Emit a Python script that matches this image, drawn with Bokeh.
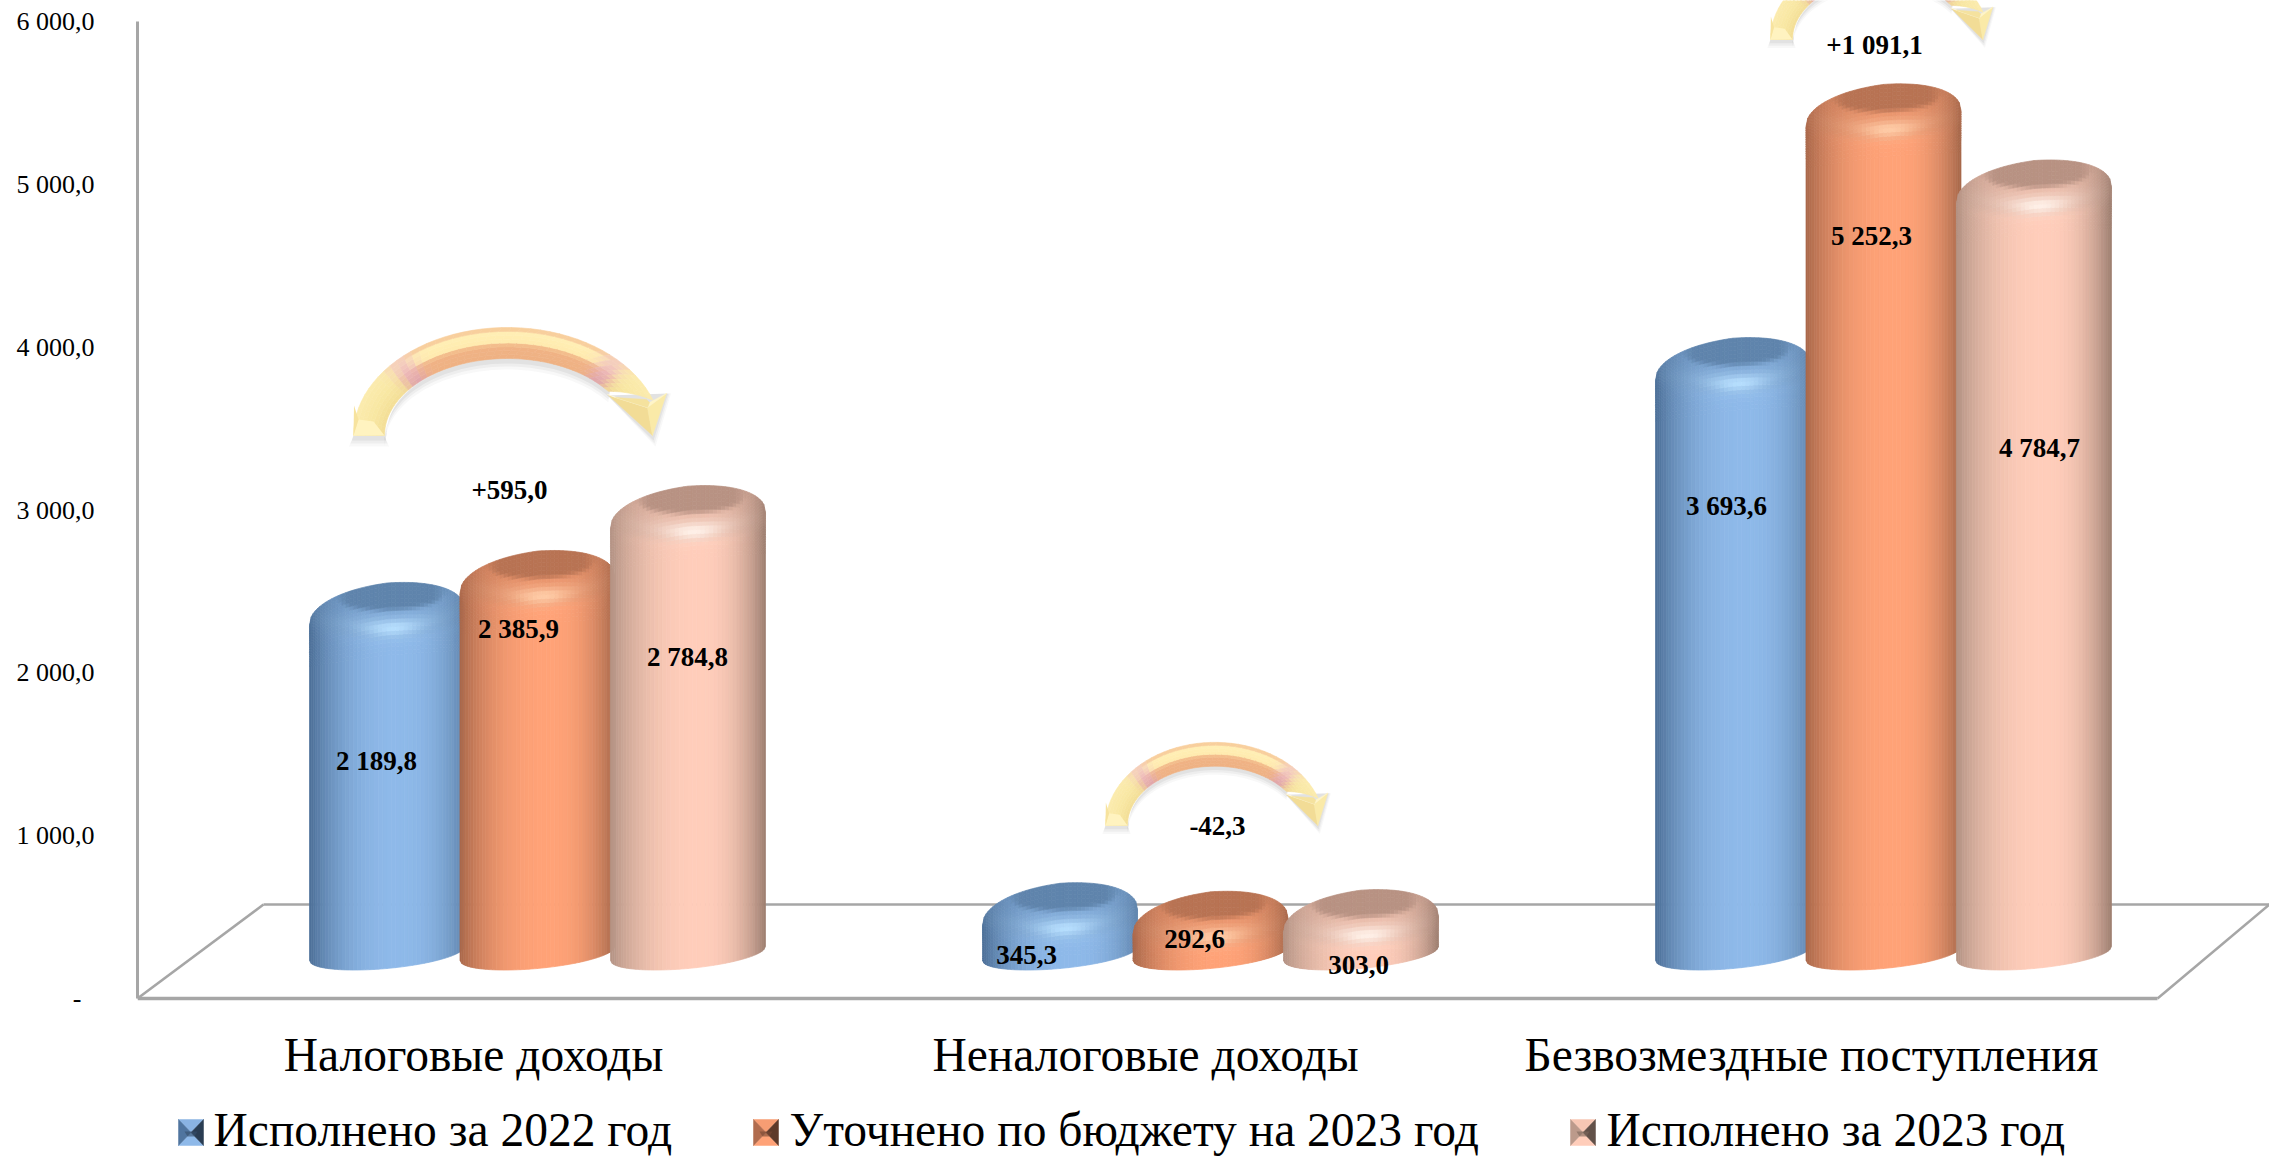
import numpy as np
from bokeh.core.properties import value
from bokeh.embed import file_html
from bokeh.models import FixedTicker, Range1d
from bokeh.plotting import figure
from bokeh.resources import INLINE

# ---------- data ----------
categories = ["Налоговые доходы", "Неналоговые доходы", "Безвозмездные поступления"]
series_names = ["Исполнено за 2022 год", "Уточнено по бюджету на 2023 год", "Исполнено за 2023 год"]
executed_2022 = [2189.8, 345.3, 3693.6]
refined_2023 = [2385.9, 292.6, 5252.3]
executed_2023 = [2784.8, 303.0, 4784.7]
deltas = ["+595,0", "-42,3", "+1 091,1"]
value_labels = [["2 189,8", "345,3", "3 693,6"],
                ["2 385,9", "292,6", "5 252,3"],
                ["2 784,8", "303,0", "4 784,7"]]
y_ticks = [0, 1000, 2000, 3000, 4000, 5000, 6000]
y_tick_labels = ["-\u00a0\u00a0", "1 000,0", "2 000,0", "3 000,0", "4 000,0", "5 000,0", "6 000,0"]

# ---------- scale of the page ----------
W, H = 2269, 1157
ORIGIN_X, PITCH = 537.0, 673.0      # px of group 0, px per group
ZERO_Y, PPU = 998.0, 0.1628         # px of value 0, px per unit
FRAME_LEFT = 137


def dy(px):
    return np.asarray(px, dtype=float) / PPU


def xp(px):
    return (np.asarray(px, dtype=float) - ORIGIN_X) / PITCH


def yp(px):
    return (ZERO_Y - np.asarray(px, dtype=float)) / PPU


p = figure(width=W, height=H, output_backend="svg", toolbar_location=None,
           x_range=Range1d(float(xp(FRAME_LEFT)), float(xp(W))),
           y_range=Range1d(float(yp(H)), float(yp(0))),
           min_border_left=FRAME_LEFT, min_border_right=0, min_border_top=0, min_border_bottom=0,
           x_axis_location=None, y_axis_location="left", background_fill_color="white",
           border_fill_color="white")
p.outline_line_color = None
p.grid.visible = False

ax = p.yaxis[0]
ax.ticker = FixedTicker(ticks=y_ticks)
ax.major_label_overrides = dict(zip(y_ticks, y_tick_labels))
ax.bounds = (0, 6000)
ax.axis_line_color = "#A6A6A6"
ax.axis_line_width = 3
ax.major_tick_line_color = None
ax.minor_tick_line_color = None
ax.major_tick_in = 0
ax.major_tick_out = 0
ax.major_label_standoff = 43
ax.major_label_text_font = "Liberation Serif"
ax.major_label_text_font_size = "26px"
ax.major_label_text_color = "black"

# floor
FLOOR = "#A6A6A6"
p.line(xp([137, 2157]), yp([998, 998]), line_color=FLOOR, line_width=3.5)
p.line(xp([137, 263]), yp([998, 904]), line_color=FLOOR, line_width=2.5)
p.line(xp([263, 2269]), yp([904, 904]), line_color=FLOOR, line_width=2.5)
p.line(xp([2157, 2269]), yp([998, 904]), line_color=FLOOR, line_width=2.5)


# ---------- shaded cylinders ----------
def rgb(h):
    return np.array([int(h[i:i + 2], 16) for i in (1, 3, 5)], dtype=float)


def tohex(c):
    c = np.clip(np.round(c), 0, 255).astype(int)
    return "#%02x%02x%02x" % tuple(c)


def sstep(a, b, x):
    t = np.clip((x - a) / (b - a), 0, 1)
    return t * t * (3 - 2 * t)


PALETTE = [
    dict(el="#4C6F97", c="#8EB9E9", er="#6085AD", cap="#5F84AC", hi="#B8E0FF"),
    dict(el="#A9674A", c="#FFA277", er="#A5674A", cap="#B87353", hi="#FFCDA8"),
    dict(el="#B39384", c="#FFCDBA", er="#9D7E70", cap="#B89283", hi="#FFF2EA"),
]
BAR_W, BAR_STEP = 155.0, 150.5
A = BAR_W / 2
B_TOP, P_TOP = 31.0, 2.2
B_BOT, K_BOT = 15.0, 7.0
BASE_Y = 953.0
PEAK_0 = 939.0
NCOL, NROW = 46, 18
us = 0.5 * (np.linspace(-1, 1, NCOL + 1) + -np.cos(np.pi * np.arange(NCOL + 1) / NCOL))


def tilt(u):
    return 11.0 * u if u < 0 else 5.0 * u


def base_color(pal, u):
    side = pal["el"] if u < 0.15 else pal["er"]
    span = 1.15 if u < 0.15 else 0.85
    s = 1 - abs((u - 0.15) / span) ** 2.4
    return rgb(side) + (rgb(pal["c"]) - rgb(side)) * s


def top_y(u, peak):
    return peak - B_TOP + B_TOP * (1 - abs(u) ** P_TOP) ** (1 / P_TOP) + tilt(u)


def bev_y(u, peak):
    return peak - 72 + tilt(u)


def bot_y(u):
    return (ZERO_Y - BASE_Y) - B_BOT * np.sqrt(np.clip(1 - u * u, 0, 1)) + K_BOT * u


def shade(pal, u, r, peak):
    """r: px below the peak line of the bar"""
    c = base_color(pal, u)
    X = u * A
    hi_col, cap_col = rgb(pal["hi"]), rgb(pal["cap"])
    band = r - (40 + 14 * (1 - u * u) - 2 * u)
    # the bevel is a little darker than the body
    c = c + (cap_col - c) * (1 - sstep(-6, 6, band)) * 0.28
    c = c + (hi_col - c) * np.exp(-((band + 9) / 12.0) ** 2) * max(0.0, 1 - u * u) * 0.2
    c = c + (hi_col - c) * np.exp(-((X - 6) / 28.0) ** 2 - ((band + 9) / 8.0) ** 2) * 0.95
    low = 14 + 13 * np.sqrt(max(0.0, 1 - ((X - 4) / 52.0) ** 2)) - 3 * u
    cap = (1 - sstep(-4, 4, r - low)) * (1 - sstep(40, 64, abs(X - 4)))
    return c + (cap_col - c) * cap


def cylinder(group, ser, val):
    """Cell polygons of one bar, from its value."""
    pal = PALETTE[ser]
    cx = ORIGIN_X + group * PITCH + (ser - 1) * BAR_STEP
    peak = (ZERO_Y - PEAK_0) + val * PPU
    xs, ys, cols = [], [], []
    for i in range(NCOL):
        u0, u1 = us[i], us[i + 1]
        um = 0.5 * (u0 + u1)
        x0, x1 = float(xp(cx + u0 * A)), float(xp(cx + u1 * A))
        b0, b1 = bot_y(u0), bot_y(u1)
        e0, e1 = max(bev_y(u0, peak), b0 + 0.5), max(bev_y(u1, peak), b1 + 0.5)
        xs.append([x0, x1, x1, x0])
        ys.append([float(dy(b0)), float(dy(b1)), float(dy(e1)), float(dy(e0))])
        cols.append(tohex(base_color(pal, um)))
        t0, t1 = top_y(u0, peak), top_y(u1, peak)
        for j in range(NROW):
            f0, f1 = j / NROW, (j + 1) / NROW
            y00, y10 = e0 + (t0 - e0) * f0, e1 + (t1 - e1) * f0
            y01, y11 = e0 + (t0 - e0) * f1, e1 + (t1 - e1) * f1
            ym = 0.25 * (y00 + y10 + y01 + y11)
            xs.append([x0, x1, x1, x0])
            ys.append([float(dy(y00)), float(dy(y10)), float(dy(y11)), float(dy(y01))])
            cols.append(tohex(shade(pal, um, peak - ym, peak)))
    return xs, ys, cols


for ser, values in enumerate([executed_2022, refined_2023, executed_2023]):
    X, Y, C = [], [], []
    for grp, v in enumerate(values):
        a, b, c = cylinder(grp, ser, v)
        X += a
        Y += b
        C += c
    p.patches(X, Y, fill_color=C, line_color=C, line_width=0.7)


# ---------- curved arrows ----------
def lerp(c0, c1, t):
    return c0 + (c1 - c0) * t


def band_col(stops, s):
    pos = [q[0] for q in stops]
    return np.array([np.interp(s, pos, [rgb(q[1])[k] for q in stops]) for k in range(3)])


TOP_STOPS = [(0, "#EFB183"), (0.42, "#F0B385"), (0.52, "#FFEBAE"), (0.82, "#FFEEB4"), (1, "#F4BE90")]
SIDE_STOPS = [(0, "#F3DE96"), (0.5, "#F9E8A4"), (1, "#FBEBAE")]
PINK_STOPS = [(0, "#DDA2AE"), (0.5, "#EDB8BC"), (1, "#F6D2C0")]


def arrow_color(theta, s):
    w = abs(theta - 90)
    c = lerp(band_col(TOP_STOPS, s), band_col(SIDE_STOPS, s), sstep(42, 56, w))
    pk = np.exp(-((w - 46) / 6.0) ** 2) * 0.9
    return lerp(c, band_col(PINK_STOPS, s), pk)


def arrow(left, base, sx, sy):
    def px(x):
        return xp(left + np.asarray(x, dtype=float) * sx)

    def py(y):
        return yp(base + np.asarray(y, dtype=float) * sy)

    RO, HO, RI, HI, CX = 154.0, 108.0, 123.0, 77.0, 154.0
    N, M = 44, 8

    def pt(th, s):
        r = RI + (RO - RI) * s
        h = HI + (HO - HI) * s
        return CX + r * np.cos(th), -h * np.sin(th)

    def th_of(f, s):
        return np.radians(180 + ((35 - 16 * s) - 180) * f)

    # soft shadow below the shaft and head
    for grow, al in [(9, 0.035), (6, 0.05), (3, 0.07)]:
        f = np.linspace(0, 1, 50)
        ix, iy = pt(th_of(f, 0.0), 0.0)
        p.patch(px(np.r_[ix, ix[::-1] + 2]), py(np.r_[iy + 2 + grow, iy[::-1] - 2 + grow * 0.2]),
                fill_color="#404040", fill_alpha=al, line_color=None)
        p.patch(px([0 - grow / 2, 31 + grow / 2, 31, 0]), py([2 + grow, 2 + grow, 0, 0]),
                fill_color="#404040", fill_alpha=al, line_color=None)
        p.patch(px([254, 299 + grow / 3, 313 + grow / 2]), py([-40, 2 + grow, -42]),
                fill_color="#404040", fill_alpha=al, line_color=None)

    xs, ys, cols = [], [], []
    for i in range(N):
        f0, f1 = i / N, (i + 1) / N
        for j in range(M):
            s0, s1 = j / M, (j + 1) / M
            a = pt(th_of(f0, s0), s0)
            b = pt(th_of(f1, s0), s0)
            c = pt(th_of(f1, s1), s1)
            d = pt(th_of(f0, s1), s1)
            xs.append([float(v) for v in px([a[0], b[0], c[0], d[0]])])
            ys.append([float(v) for v in py([a[1], b[1], c[1], d[1]])])
            sm = 0.5 * (s0 + s1)
            cols.append(tohex(arrow_color(np.degrees(th_of(0.5 * (f0 + f1), sm)), sm)))
    p.patches(xs, ys, fill_color=cols, line_color=cols, line_width=0.6)

    # bevel at the foot of the shaft
    p.patch(px([0, 31, 20, 5]), py([0, 0, -14, -16]), fill_color="#FFF3C0", line_color=None)
    p.patch(px([0, 5, 0.5]), py([0, -16, -30]), fill_color="#F7E39E", line_color=None)

    # arrow head facets
    tip, lc, rc, mid = (299, 0), (254, -41), (313, -42), (294, -28)
    facets = [((lc, mid, tip), "#F2DC96"), ((rc, mid, tip), "#FAEAA8"),
              ((lc, (262, -38), mid), "#FFFDF2"), ((rc, (296, -33), mid), "#FFF5C8"),
              (((262, -38), (293, -36), (296, -33), mid), "#F5E29E")]
    for pts, col in facets:
        p.patch(px([q[0] for q in pts]), py([q[1] for q in pts]), fill_color=col, line_color=col, line_width=0.5)


arrow(353, 435, 1.0, 1.0)
arrow(1105, 825, 0.71, 0.77)
arrow(1770, 39, 0.71, 0.77)

# ---------- texts ----------
SERIF = value("Liberation Serif")


def text(x, y, s, size, bold=False, align="center"):
    p.text([float(xp(x))], [float(yp(y))], text=[s], text_font=SERIF,
           text_font_size=value(f"{size}px"), text_font_style="bold" if bold else "normal",
           text_color="black", text_align=align, text_baseline="middle")


label_pos = [[(376, 761), (1026, 955), (1726, 506)],
             [(518, 629), (1194, 939), (1871, 236)],
             [(687, 657), (1358, 965), (2039, 448)]]
for ser in range(3):
    for grp in range(3):
        x_, y_ = label_pos[ser][grp]
        text(x_, y_ - 1, value_labels[ser][grp], 27, bold=True)

for s, (x_, y_) in zip(deltas, [(509, 489), (1217, 825), (1874, 44)]):
    text(x_, y_, s, 27, bold=True)

for s, x_ in zip(categories, [473, 1145, 1811]):
    text(x_, 1054, s, 47.5)


# ---------- legend ----------
def swatch(x, pal):
    w = 25
    t, b = 1119.0, 1145.0
    c0 = rgb(pal["c"])
    e = rgb(pal["el"])
    faces = [
        ([x, x + w, x + w / 2], [t, t, (t + b) / 2], tohex(c0 * 0.97)),
        ([x, x + w, x + w / 2], [b, b, (t + b) / 2], tohex(c0)),
        ([x, x + w / 2, x], [t, (t + b) / 2, b], tohex(e * 1.05)),
        ([x + w, x + w / 2, x + w], [t, (t + b) / 2, b], tohex(e * 0.55)),
    ]
    for fx, fy, col in faces:
        p.patch(xp(fx), yp(fy), fill_color=col, line_color=col, line_width=0.5)
    p.patch(xp([x + 6, x + w - 6, x + w - 9, x + 9]), yp([1131, 1131, 1136, 1136]),
            fill_color=tohex(e * 0.7), fill_alpha=0.6, line_color=None)


for name, pal, sx_, tx_ in zip(series_names, PALETTE, [178, 753, 1570], [213, 789, 1606]):
    swatch(sx_, pal)
    text(tx_, 1129, name, 47.5, align="left")

open("out.html", "w").write(file_html(p, INLINE))
